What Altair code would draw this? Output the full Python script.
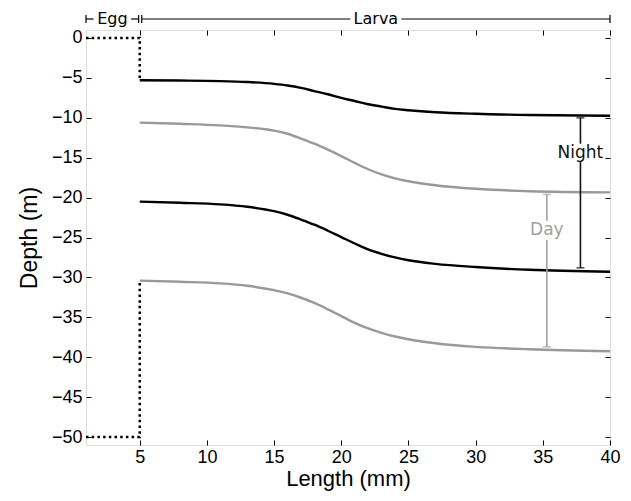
import altair as alt
import pandas as pd

# ---- data ----
length = [5, 8, 11, 13, 15, 16, 17, 18, 19, 20, 21, 22, 23, 24, 25, 27, 30, 34, 40]
night_upper = [-5.30, -5.33, -5.40, -5.52, -5.75, -5.95, -6.25, -6.65, -7.05, -7.50,
               -7.90, -8.30, -8.60, -8.88, -9.05, -9.30, -9.50, -9.65, -9.75]
day_upper = [-10.60, -10.75, -10.95, -11.20, -11.60, -12.00, -12.60, -13.25, -14.00, -14.80,
             -15.65, -16.45, -17.10, -17.60, -17.95, -18.45, -18.90, -19.20, -19.35]
night_lower = [-20.50, -20.65, -20.85, -21.15, -21.70, -22.15, -22.75, -23.40, -24.15, -24.95,
               -25.75, -26.50, -27.05, -27.50, -27.85, -28.30, -28.70, -29.05, -29.30]
day_lower = [-30.40, -30.55, -30.75, -31.05, -31.60, -32.00, -32.55, -33.20, -34.00, -34.85,
             -35.70, -36.40, -36.95, -37.40, -37.75, -38.25, -38.70, -39.00, -39.25]

egg_x = [1, 5, 5]
egg_top = [0, 0, -5.3]
egg_bottom = [-50, -50, -30.4]

x_ticks = [5, 10, 15, 20, 25, 30, 35, 40]
y_ticks = [0, -5, -10, -15, -20, -25, -30, -35, -40, -45, -50]

stages = ["Egg", "Larva"]
stage_start = [1, 5.15]
stage_end = [4.92, 40]

night_bar = {"x": 37.8, "top": -10.0, "bottom": -28.8, "label_y": -14.4}
day_bar = {"x": 35.3, "top": -19.6, "bottom": -38.7, "label_y": -24.1}

BLACK = "#000000"
GRAY = "#999999"
TICK_FONT = "Liberation Sans"
ANN_FONT = "DejaVu Sans"

# ---- tables ----
rows = []
for name, ys, col in [("night_upper", night_upper, BLACK), ("day_upper", day_upper, GRAY),
                      ("night_lower", night_lower, BLACK), ("day_lower", day_lower, GRAY)]:
    for x, y in zip(length, ys):
        rows.append({"series": name, "x": x, "y": y, "c": col})
curves = pd.DataFrame(rows)

egg_rows = []
for name, ys in [("top", egg_top), ("bottom", egg_bottom)]:
    for i, (x, y) in enumerate(zip(egg_x, ys)):
        egg_rows.append({"part": name, "x": x, "y": y, "i": i})
egg = pd.DataFrame(egg_rows)

xs = alt.Scale(domain=[1, 40], nice=False, zero=False)
ys_ = alt.Scale(domain=[-51, 1], nice=False, zero=False)


def X(field="x", axis=None):
    return alt.X(f"{field}:Q", scale=xs, axis=axis)


def Y(field="y", axis=None):
    return alt.Y(f"{field}:Q", scale=ys_, axis=axis)


axis_bottom = alt.Axis(values=x_ticks, orient="bottom", offset=-5, tickSize=5, domain=False,
                       grid=False, labelPadding=3, labelFont=TICK_FONT, labelFontSize=18,
                       labelColor="black", tickColor="black", title="Length (mm)",
                       titleFont=TICK_FONT, titleFontSize=22, titleFontWeight="normal",
                       titleColor="black", titlePadding=2, labelFlush=False)
axis_left = alt.Axis(values=y_ticks, orient="left", offset=-5, tickSize=5, domain=False,
                     grid=False, labelPadding=4, labelFont=TICK_FONT, labelFontSize=18,
                     labelColor="black", tickColor="black", title="Depth (m)",
                     titleFont=TICK_FONT, titleFontSize=23, titleFontWeight="normal",
                     titleColor="black", titlePadding=10, labelFlush=False)
axis_top = alt.Axis(values=x_ticks, orient="top", offset=-5, tickSize=5, domain=False,
                    grid=False, labels=False, title=None, tickColor="black")
axis_right = alt.Axis(values=y_ticks, orient="right", offset=-5, tickSize=5, domain=False,
                      grid=False, labels=False, title=None, tickColor="black")

curve_layer = alt.Chart(curves).mark_line(strokeWidth=2.4, interpolate="monotone").encode(
    x=X(axis=axis_bottom), y=Y(axis=axis_left),
    color=alt.Color("c:N", scale=None), detail="series:N")

egg_layer = alt.Chart(egg).mark_line(strokeWidth=2.5, strokeDash=[2.5, 3.2], color="black",
                                     strokeCap="butt").encode(
    x=X(axis=axis_top), y=Y(axis=axis_right), detail="part:N", order="i:Q")

# error bars with a gap behind the label
def bar_layers(b, color, label, gap, width):
    segs = pd.DataFrame({"x": [b["x"], b["x"]],
                         "y": [b["top"], b["label_y"] - gap],
                         "y2": [b["label_y"] + gap, b["bottom"]]})
    caps = pd.DataFrame({"x": [b["x"], b["x"]], "y": [b["top"], b["bottom"]]})
    lab = pd.DataFrame({"x": [b["x"]], "y": [b["label_y"]], "t": [label]})
    r = alt.Chart(segs).mark_rule(color=color, strokeWidth=width).encode(
        x=X(), y=Y(), y2="y2:Q")
    c = alt.Chart(caps).mark_tick(orient="horizontal", size=8, thickness=width,
                                  color=color).encode(x=X(), y=Y())
    t = alt.Chart(lab).mark_text(font=ANN_FONT, fontSize=17, color=color,
                                 baseline="middle", align="center").encode(
        x=X(), y=Y(), text="t:N")
    return [r, c, t]

night_layers = bar_layers(night_bar, "#111111", "Night", 1.15, 1.6)
day_layers = bar_layers(day_bar, "#a0a0a0", "Day", 1.2, 1.6)

# stage bracket above the plot
stage_df = pd.DataFrame({"stage": stages, "s": stage_start, "e": stage_end})
stage_df["mid"] = [(a + b) / 2 for a, b in zip(stage_start, stage_end)]
half = {"Egg": 1.4, "Larva": 1.9}
seg_rows = []
for _, r in stage_df.iterrows():
    seg_rows.append({"x": r.s, "x2": r.mid - half[r.stage]})
    seg_rows.append({"x": r.mid + half[r.stage], "x2": r.e})
stage_segs = pd.DataFrame(seg_rows)
stage_ticks = pd.DataFrame({"x": stage_start + stage_end})

bracket_y = -11
br_line = alt.Chart(stage_segs).mark_rule(color="black", strokeWidth=1.2).encode(
    x=X(), x2="x2:Q", y=alt.value(bracket_y))
br_ticks = alt.Chart(stage_ticks).mark_rule(color="black", strokeWidth=1.2).encode(
    x=X(), y=alt.value(bracket_y - 4), y2=alt.value(bracket_y + 4))
br_text = alt.Chart(stage_df).mark_text(font=ANN_FONT, fontSize=16, color="black",
                                        baseline="middle", align="center").encode(
    x=X("mid"), y=alt.value(bracket_y), text="stage:N")

chart = alt.layer(
    curve_layer, egg_layer, *night_layers, *day_layers, br_line, br_ticks, br_text
).resolve_axis(x="independent", y="independent").resolve_scale(
    x="shared", y="shared"
).properties(
    width=524, height=415,
    autosize=alt.AutoSizeParams(type="none"),
    padding={"left": 78, "top": 22, "right": 13, "bottom": 48},
).configure_view(stroke="black", strokeWidth=1).configure(background="white")

chart.save("out.html", embed_options={"renderer": "svg", "actions": False})
